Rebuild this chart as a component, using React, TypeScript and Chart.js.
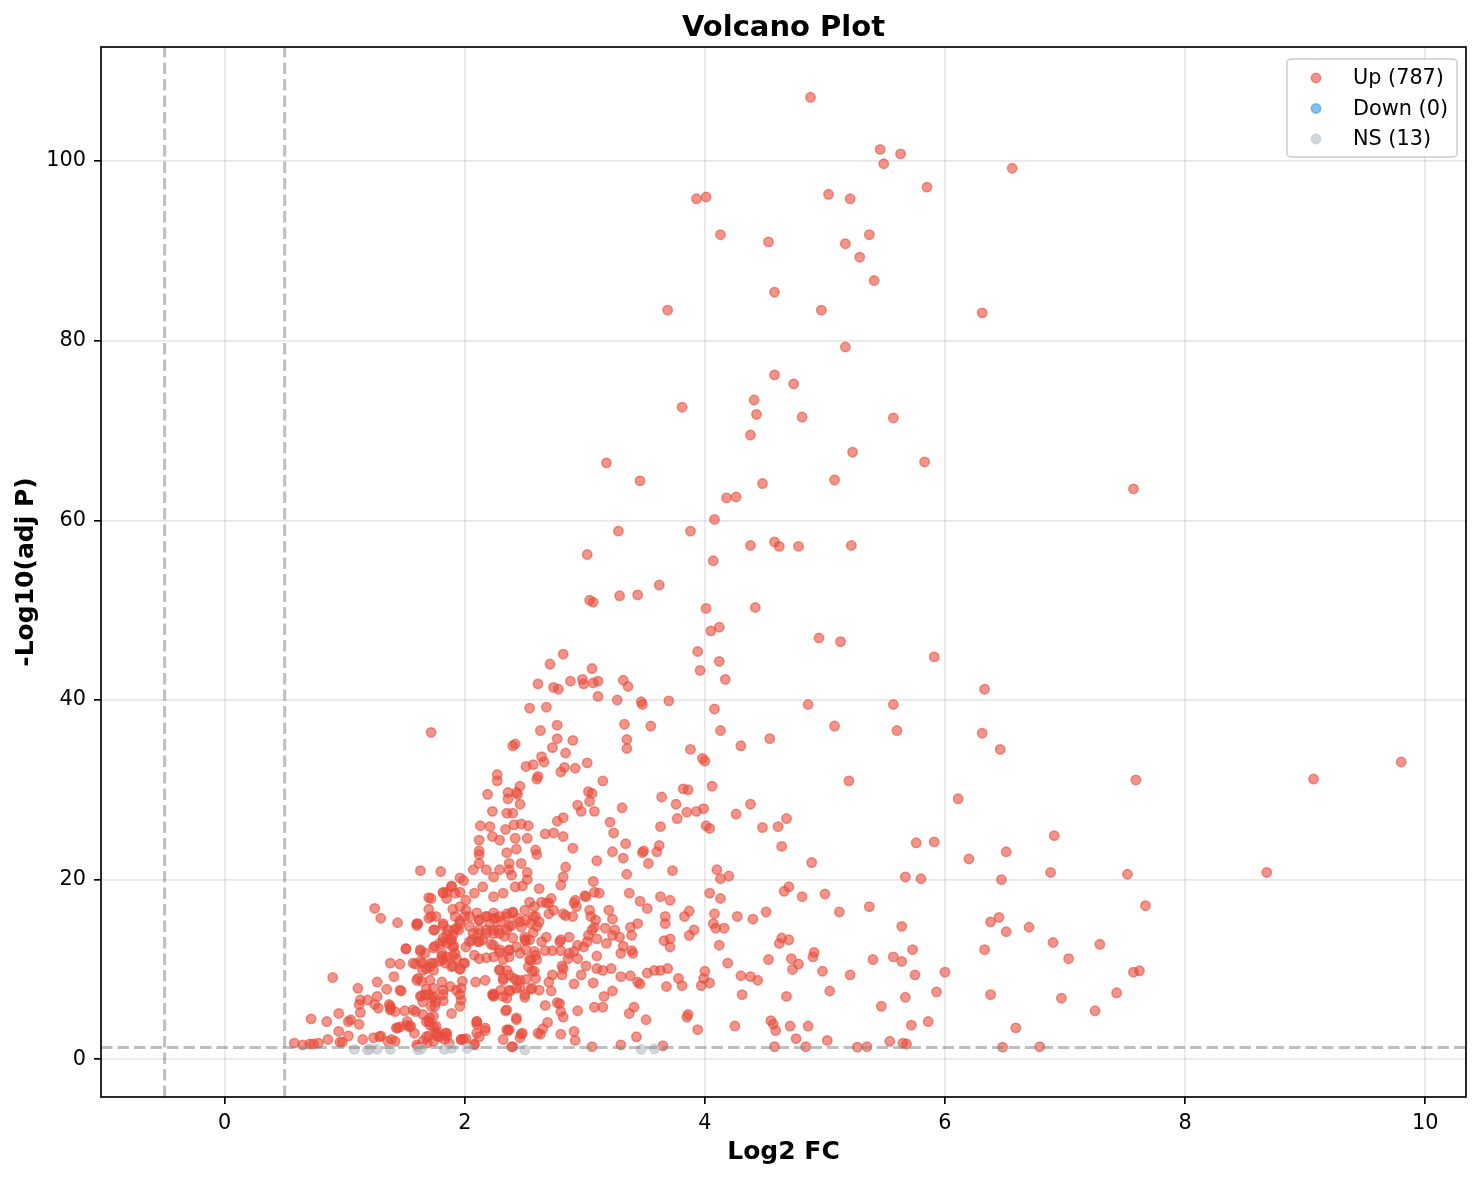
import { useEffect, useRef } from 'react';
import { Chart, registerables } from 'chart.js';

Chart.register(...registerables);

const chartTitle = 'Volcano Plot';
const xLabel = 'Log2 FC';
const yLabel = '-Log10(adj P)';
const xTicks = [0, 2, 4, 6, 8, 10];
const yTicks = [0, 20, 40, 60, 80, 100];
const xMin = -1.03;
const xMax = 10.34;
const yMin = -4.2;
const yMax = 112.7;
const fcThreshold = 0.5;
const pThreshold = 1.3;
const upLabel = 'Up (787)';
const downLabel = 'Down (0)';
const nsLabel = 'NS (13)';

const upTop: [number, number][] = [
  [4.88,107.1],[5.46,101.3],[5.49,99.7],[5.63,100.8],[6.56,99.2],[5.85,97.1],[5.03,96.3],[5.21,95.8],[3.93,95.8],[4.01,96.0],
  [4.13,91.8],[4.53,91.0],[5.17,90.8],[5.37,91.8],[5.29,89.3],[5.41,86.7],[4.58,85.4],[3.69,83.4],[4.97,83.4],[6.31,83.1],
  [5.17,79.3],[4.58,76.2],[4.74,75.2],[3.81,72.6],[4.41,73.4],[4.43,71.8],[4.81,71.5],[5.57,71.4],[4.38,69.5],[5.23,67.6],
  [5.83,66.5],[3.18,66.4],[3.46,64.4],[4.48,64.1],[5.08,64.5],[7.57,63.5],[4.18,62.5],[4.26,62.6],[4.08,60.1],[3.28,58.8],
  [3.88,58.8],[4.38,57.2],[4.58,57.6],[4.62,57.1],[4.78,57.1],[5.22,57.2],[3.02,56.2],[4.07,55.5],[3.62,52.8],[3.04,51.1],
  [3.07,50.9],[3.29,51.6],[3.44,51.7],[4.01,50.2],[4.42,50.3],[4.05,47.7],[4.12,48.1],[4.95,46.9],[5.13,46.5],[1.72,36.4],
];

const upMidBand: [number, number][] = [
  [4.54,35.7],[4.86,39.5],[5.08,37.1],[5.57,39.5],[5.60,36.6],[5.20,31.0],[4.61,25.9],[4.68,26.8],[4.48,25.8],[4.64,23.7],
  [4.89,21.9],[4.70,19.2],[4.66,18.7],[4.81,18.1],[5.00,18.4],[5.12,16.4],[5.37,17.0],[4.51,16.4],[4.64,13.5],[4.70,13.3],
  [4.62,12.9],[4.91,11.9],[4.90,11.4],[5.40,11.1],[5.57,11.4],[4.53,11.1],[4.72,11.2],[4.78,10.6],[4.73,10.0],[4.98,9.8],
  [5.21,9.4],[5.04,7.6],[4.68,7.0],[4.55,4.3],[4.57,3.9],[4.59,3.2],[4.71,3.7],[4.86,3.7],[4.76,2.3],[5.02,2.1],
  [4.58,1.4],[4.84,1.4],[5.27,1.35],[5.35,1.4],[5.47,5.9],[5.65,1.8],[5.54,2.0],
];

const upRight: [number, number][] = [
  [5.91,44.8],[6.33,41.2],[6.31,36.3],[6.46,34.5],[7.59,31.1],[9.07,31.2],[9.80,33.1],[6.11,29.0],[5.76,24.1],[5.91,24.2],
  [6.91,24.9],[6.20,22.3],[6.51,23.1],[5.67,20.3],[5.80,20.1],[6.47,20.0],[6.88,20.8],[7.52,20.6],[8.68,20.8],[7.67,17.1],
  [5.64,14.8],[6.38,15.3],[6.45,15.8],[6.51,14.2],[6.70,14.7],[5.73,12.2],[6.33,12.2],[6.90,13.0],[7.29,12.8],[7.03,11.2],
  [5.64,10.9],[5.75,9.4],[6.00,9.7],[7.57,9.7],[7.62,9.85],[5.67,6.9],[5.93,7.5],[6.38,7.2],[6.97,6.8],[7.43,7.4],
  [7.25,5.4],[5.72,3.8],[5.86,4.2],[6.59,3.5],[5.68,1.7],[6.48,1.35],[6.79,1.4],
];

const upCenterHigh: [number, number][] = [
  [3.94,45.4],[4.12,44.3],[3.96,43.3],[4.17,42.3],[2.82,45.1],[2.71,44.0],[2.61,41.8],[2.74,41.4],[2.78,41.2],[2.88,42.1],
  [2.98,42.3],[2.99,41.8],[3.06,43.5],[3.07,41.9],[3.11,42.1],[3.11,40.4],[3.32,42.2],[3.36,41.5],[3.27,40.0],[3.47,39.8],
  [3.48,39.5],[3.70,39.9],[2.54,39.1],[2.68,39.2],[4.08,39.0],[3.33,37.3],[3.55,37.1],[4.13,36.6],[2.63,36.6],[2.77,37.2],
  [2.90,35.5],[2.77,35.7],[3.35,35.6],[3.35,34.6],[2.40,34.9],[2.42,35.1],[4.30,34.9],[3.88,34.5],[3.98,33.5],[4.00,33.2],
  [2.73,34.7],[2.84,34.1],[2.64,33.7],[2.66,33.1],[3.02,33.0],[2.51,32.6],[2.57,32.8],[2.83,32.5],[2.80,32.0],[2.92,32.4],
  [2.61,31.5],[2.60,31.2],[3.15,31.0],[2.27,31.7],[2.27,31.0],[2.19,29.5],[2.36,29.7],[2.36,29.0],[2.43,29.7],[2.46,30.4],
  [2.44,29.5],[2.46,28.4],[2.23,27.6],[2.35,27.4],[2.40,27.4],[3.03,29.8],[3.06,29.6],[3.04,28.7],[2.94,28.3],[2.97,27.6],
  [3.08,27.6],[3.31,28.0],[3.64,29.2],[3.82,30.1],[3.86,30.0],[4.06,30.4],[3.76,28.4],[3.85,27.5],[3.93,27.6],[3.99,27.9],
  [3.77,26.8],[4.38,28.4],[4.26,27.3],[4.01,26.0],[4.04,25.7],[3.21,26.4],[3.24,25.2],[3.63,25.9],[2.77,26.5],[2.82,26.9],
  [2.67,25.1],[2.74,25.2],[2.82,24.8],[2.13,26.0],[2.21,25.9],[2.23,24.8],[2.29,24.4],[2.34,25.6],[2.41,26.1],[2.47,26.2],
  [2.53,26.0],[2.42,24.6],[2.52,24.6],[2.43,23.4],[2.35,23.0],[2.12,23.2],[2.59,23.3],[2.60,22.8],[2.90,23.5],[3.34,24.0],
  [3.23,23.1],[3.48,23.0],[3.49,23.2],[3.60,23.1],[3.62,23.8],[3.53,21.8],[3.32,22.4],[3.10,22.1],[3.73,21.0],[3.35,20.6],
];

const upCenterLow: [number, number][] = [
  [2.84,21.4],[2.82,20.3],[2.80,19.4],[3.07,19.8],[3.08,18.6],[3.00,18.2],[3.12,18.5],[3.37,18.5],[3.46,17.6],[3.52,16.8],
  [3.63,18.1],[3.71,17.7],[4.04,18.5],[4.10,21.1],[4.13,20.1],[4.20,20.4],[4.13,17.9],[4.08,16.2],[4.27,15.9],[4.40,15.6],
  [3.83,15.9],[3.87,16.5],[3.67,15.9],[3.67,15.1],[3.66,13.2],[3.71,13.4],[3.71,12.5],[3.87,13.8],[3.91,14.4],[4.07,15.1],
  [4.09,14.6],[4.16,14.6],[4.12,12.7],[4.19,10.7],[4.30,9.3],[4.38,9.2],[4.44,8.8],[4.31,7.2],[4.25,3.7],[4.00,9.8],
  [3.99,9.0],[3.97,8.2],[4.04,8.5],[3.68,8.1],[3.78,9.0],[3.81,8.2],[3.69,10.1],[3.63,9.9],[3.58,9.9],[3.52,9.6],
  [3.86,5.0],[3.85,4.7],[3.94,3.3],[3.51,4.4],[3.43,2.5],[3.65,1.5],[3.30,1.6],[3.06,1.4],[3.37,5.1],[3.41,5.8],
  [3.46,8.4],[3.38,9.3],[3.44,8.6],[3.30,9.2],[3.22,10.1],[3.15,9.9],[3.23,7.6],[3.16,7.0],[3.15,5.8],[3.08,5.8],
  [3.07,8.5],[3.10,10.1],[3.01,10.4],[2.97,9.4],[2.91,8.4],[2.94,5.4],[2.91,3.1],[2.92,2.1],[2.80,2.8],[2.79,6.2],
  [2.80,5.3],[2.82,4.7],[2.77,6.3],[2.67,6.0],[2.69,4.1],[2.65,3.4],[2.63,2.8],[2.72,7.6],[2.70,8.6],[2.81,9.4],
  [2.73,9.4],[2.82,10.1],[2.81,10.4],[2.73,12.1],[2.67,12.1],[2.59,11.6],[2.55,11.0],[2.59,9.0],[2.56,9.8],[2.51,8.9],
  [2.55,7.8],[2.50,6.9],[2.43,8.8],[2.46,8.0],[2.38,7.6],[2.35,6.8],[2.32,9.0],[2.29,10.0],[2.17,8.8],[2.09,8.6],
  [2.23,7.2],[2.24,7.1],[2.34,5.4],[2.43,4.4],[2.36,3.2],[2.32,2.2],[2.48,2.9],[2.46,2.4],[2.39,1.4],[2.10,4.2],
  [2.10,3.9],[2.17,3.2],[2.08,1.7],[1.99,2.2],
];

const upCenterDense: [number, number][] = [
  [2.12,24.4],[1.99,19.9],[2.07,21.1],[2.12,21.8],[2.12,22.8],[2.18,21.1],[2.24,20.3],[2.29,21.1],[2.37,21.8],[2.37,21.1],
  [2.39,20.5],[2.47,21.8],[2.52,20.8],[2.52,20.0],[2.48,19.3],[2.42,19.2],[2.32,18.5],[2.24,18.1],[2.15,19.2],[2.08,18.5],
  [2.01,17.7],[1.96,17.0],[2.04,15.9],[2.12,15.5],[2.18,15.9],[2.24,15.7],[2.29,15.9],[2.35,16.2],[2.40,16.4],[2.44,15.7],
  [2.50,16.6],[2.54,17.5],[2.58,17.0],[2.62,19.0],[2.64,17.5],[2.68,17.4],[2.72,17.9],[2.70,16.2],[2.74,16.6],[2.55,15.1],
  [2.57,14.1],[2.50,13.6],[2.47,14.7],[2.39,14.9],[2.35,14.4],[2.29,14.0],[2.24,14.4],[2.18,14.0],[2.11,14.0],[2.04,13.1],
  [2.11,13.1],[2.22,12.8],[2.29,11.9],[2.37,12.1],[2.46,11.8],[2.51,13.2],[2.64,13.1],[2.68,13.6],[2.79,13.1],[2.80,13.3],
  [2.87,13.6],[2.87,11.8],[2.91,12.0],[2.94,12.7],[2.99,12.5],[3.03,13.8],[3.06,14.4],[3.08,14.7],[3.10,13.4],[3.02,13.1],
  [2.94,11.2],[2.86,11.2],[2.80,12.1],[3.10,11.5],[3.18,12.9],[3.23,13.8],[3.25,14.4],[3.29,13.6],[3.32,12.6],[3.39,12.1],
  [3.40,11.8],[3.30,11.8],[3.39,13.8],[3.44,15.1],[3.38,14.7],[3.17,14.6],[3.20,16.6],[3.23,15.6],[3.09,15.5],[3.05,15.9],
  [3.04,16.6],[3.01,18.1],[2.93,17.0],[2.91,17.4],[2.92,17.7],[2.90,15.9],[2.84,16.0],[2.82,16.2],[2.70,17.4],[2.59,15.9],
  [2.62,15.3],
];

const upLeft: [number, number][] = [
  [0.58,1.8],[0.65,1.6],[0.71,1.7],[0.74,1.7],[0.78,1.8],[0.72,4.5],[0.85,4.2],[0.86,2.2],[0.95,5.1],[0.95,3.1],
  [0.90,9.1],[0.96,1.9],[0.98,1.9],[1.03,4.2],[1.05,4.4],[1.03,2.6],[1.12,3.9],[1.13,5.2],[1.11,7.9],[1.13,6.6],
  [1.12,6.1],[1.15,2.2],[1.19,6.6],[1.25,16.8],[1.30,15.7],[1.27,8.6],[1.27,7.0],[1.25,6.1],[1.28,5.7],[1.24,2.4],
  [1.30,2.6],[1.35,7.8],[1.37,6.1],[1.38,5.7],[1.41,9.2],[1.39,2.2],[1.44,15.2],[1.47,7.6],[1.44,3.5],[1.38,10.7],
  [1.46,10.6],[1.51,12.3],[1.50,5.4],[1.52,4.2],[1.55,3.7],[1.59,5.3],[1.63,21.0],[1.80,20.9],[1.60,15.1],[1.59,10.6],
  [1.63,12.0],[1.65,10.7],[1.68,7.8],[1.64,8.7],[1.67,7.2],[1.65,5.0],[1.71,4.6],[1.70,2.6],[1.72,5.9],[1.73,6.8],
  [1.70,4.2],[1.70,18.0],[1.72,15.9],[1.74,14.4],[1.75,12.6],[1.74,10.7],[1.71,10.3],[1.74,7.9],[1.76,3.7],[1.77,2.6],
  [1.78,3.0],[1.82,18.6],[1.85,18.6],[1.89,19.3],[1.90,16.7],[1.92,18.5],[1.96,20.2],[1.82,14.9],[1.82,13.1],[1.81,11.8],
  [1.81,11.5],[1.84,10.7],[1.90,10.4],[1.93,11.2],[1.90,11.5],[1.96,10.0],[1.99,10.7],[1.85,13.9],[1.89,13.3],[1.91,12.6],
  [1.91,14.4],[1.95,14.4],[1.96,15.4],[1.98,8.7],[1.97,7.9],[1.88,8.1],[1.82,7.2],[1.82,6.5],[1.84,2.9],[1.85,2.6],
  [1.87,1.8],[1.97,2.2],
];

const upCluster: [number, number][] = [
  [1.72,17.9],[1.61,15.1],[1.60,14.9],[1.70,16.7],[1.70,15.7],[1.76,15.9],[1.75,14.4],[1.82,18.5],[1.85,17.9],[1.89,19.2],
  [1.96,18.6],[1.82,15.1],[1.86,14.4],[1.82,13.5],[1.79,12.9],[1.85,12.9],[1.88,13.3],[1.90,13.8],[1.93,14.6],[1.96,15.1],
  [1.92,15.9],[1.90,12.5],[1.92,11.8],[1.85,11.4],[1.74,12.4],[1.67,11.8],[1.63,12.2],[1.51,12.3],[1.72,10.7],[1.68,10.1],
  [1.74,9.9],[1.79,10.9],[1.82,11.1],[1.89,10.3],[1.96,10.1],[2.00,10.7],[2.01,12.5],[2.06,13.3],[2.07,14.0],[2.04,14.8],
  [2.00,15.9],[2.01,16.6],[2.10,16.3],[2.12,15.5],[2.18,15.9],[2.21,15.1],[2.24,16.3],[2.26,15.7],[2.30,15.3],[2.35,15.9],
  [2.40,16.3],[2.37,14.8],[2.46,15.3],[2.51,15.5],[2.57,15.9],[2.60,14.8],[2.54,13.3],[2.50,13.3],[2.40,13.5],[2.33,13.7],
  [2.28,14.4],[2.24,14.0],[2.18,14.4],[2.12,14.4],[2.15,13.3],[2.12,13.1],[2.24,12.7],[2.29,12.2],[2.37,12.2],[2.37,11.4],
  [2.32,11.1],[2.24,11.4],[2.18,11.3],[2.12,11.2],[2.08,11.6],[2.43,12.5],[2.51,12.2],[2.54,11.1],[2.58,12.0],[2.60,11.1],
  [2.58,9.8],[2.53,10.3],[2.46,8.8],[2.41,9.0],[2.37,9.4],[2.35,9.9],[2.29,9.9],[2.32,8.8],[2.43,7.9],[2.37,7.7],
  [2.30,7.7],[2.24,7.3],[2.24,7.0],[2.32,7.0],[2.35,5.5],[2.43,4.6],[2.47,2.8],[2.50,7.2],[2.56,7.9],[2.62,7.7],
  [2.61,2.9],[2.35,3.3],[2.37,3.3],[2.40,1.4],[2.17,3.5],[2.10,4.2],[2.10,2.9],[2.08,1.6],[2.12,2.5],[2.01,2.3],
  [1.97,2.2],[1.96,5.9],[1.97,6.6],[1.96,7.2],[1.93,7.7],[1.89,5.1],[1.81,8.6],[1.82,7.7],[1.74,7.0],[1.76,6.4],
  [1.75,5.9],[1.70,7.2],[1.64,7.1],[1.65,6.4],[1.63,7.0],[1.57,5.5],[1.68,4.2],[1.71,3.8],[1.74,4.8],[1.74,3.6],
  [1.76,2.9],[1.79,2.5],[1.85,2.9],[1.83,2.2],[1.74,2.0],[1.68,2.5],[1.65,2.0],[1.69,1.8],[1.60,1.6],[1.61,1.4],
  [1.58,2.9],[1.54,3.6],[1.52,3.8],[1.61,9.0],[1.60,8.8],[1.57,10.7],[1.63,10.9],[1.65,9.9],[1.71,8.8],[1.46,7.7],
  [1.42,5.3],[1.38,5.9],[1.38,5.5],[1.46,3.6],[1.43,3.5],[1.42,2.0],[1.36,2.0],[1.29,2.5],
];

const downPoints: [number, number][] = [];

const nsPoints: [number, number][] = [
  [1.08,1.1],[1.19,1.05],[1.21,1.15],[1.27,1.1],[1.38,1.1],[1.61,1.05],[1.64,1.15],[1.83,1.1],[1.89,1.2],[2.02,1.2],
  [2.50,1.05],[3.47,1.1],[3.58,1.15],
];

const upColor = 'rgba(231,76,60,0.6)';
const downColor = 'rgba(52,152,219,0.6)';
const nsColor = 'rgba(189,195,199,0.65)';
const FONT = '"DejaVu Sans", "Liberation Sans", sans-serif';
const MARKER_R = 4.7;

const toXY = (arr: [number, number][]) => arr.map(([x, y]) => ({ x, y }));

const decorPlugin = {
  id: 'decor',
  afterDatasetsDraw(chart: any) {
    const { ctx, chartArea: a, scales } = chart;
    const xs = scales.x;
    const ys = scales.y;
    ctx.save();
    ctx.beginPath();
    ctx.rect(a.left, a.top, a.right - a.left, a.bottom - a.top);
    ctx.clip();
    ctx.strokeStyle = 'rgba(128,128,128,0.5)';
    ctx.lineWidth = 3;
    ctx.setLineDash([11.5, 5]);
    for (const v of [-fcThreshold, fcThreshold]) {
      const px = xs.getPixelForValue(v);
      ctx.beginPath();
      ctx.moveTo(px, a.bottom);
      ctx.lineTo(px, a.top);
      ctx.stroke();
    }
    const py = ys.getPixelForValue(pThreshold);
    ctx.beginPath();
    ctx.moveTo(a.left, py);
    ctx.lineTo(a.right, py);
    ctx.stroke();
    ctx.restore();
  },
  afterDraw(chart: any) {
    const { ctx, chartArea: a } = chart;
    ctx.save();
    ctx.strokeStyle = '#000';
    ctx.lineWidth = 1.67;
    ctx.strokeRect(a.left, a.top, a.right - a.left, a.bottom - a.top);
    ctx.fillStyle = '#000';
    ctx.font = `bold 29px ${FONT}`;
    ctx.textAlign = 'center';
    ctx.textBaseline = 'alphabetic';
    ctx.fillText(chartTitle, (a.left + a.right) / 2, a.top - 11);
    const bw = 170;
    const bh = 98;
    const bx = a.right - 9 - bw;
    const by = a.top + 12;
    ctx.beginPath();
    const r = 4;
    ctx.moveTo(bx + r, by);
    ctx.arcTo(bx + bw, by, bx + bw, by + bh, r);
    ctx.arcTo(bx + bw, by + bh, bx, by + bh, r);
    ctx.arcTo(bx, by + bh, bx, by, r);
    ctx.arcTo(bx, by, bx + bw, by, r);
    ctx.closePath();
    ctx.fillStyle = 'rgba(255,255,255,0.8)';
    ctx.fill();
    ctx.strokeStyle = '#cccccc';
    ctx.lineWidth = 1.5;
    ctx.stroke();
    const items = [
      { label: upLabel, color: upColor },
      { label: downLabel, color: downColor },
      { label: nsLabel, color: nsColor },
    ];
    items.forEach((it, i) => {
      const cy = by + 19 + i * 30.5;
      ctx.beginPath();
      ctx.arc(bx + 29, cy, MARKER_R, 0, Math.PI * 2);
      ctx.fillStyle = it.color;
      ctx.fill();
      ctx.strokeStyle = it.color;
      ctx.lineWidth = 1.5;
      ctx.stroke();
      ctx.fillStyle = '#000';
      ctx.font = `20.8px ${FONT}`;
      ctx.textAlign = 'left';
      ctx.textBaseline = 'middle';
      ctx.fillText(it.label, bx + 66, cy + 1);
    });
    ctx.restore();
  },
};

export default function App() {
  const ref = useRef<HTMLCanvasElement | null>(null);
  useEffect(() => {
    if (!ref.current) return;
    const upAll = [
      ...upTop, ...upMidBand, ...upRight, ...upCenterHigh, ...upCenterLow,
      ...upCenterDense, ...upLeft, ...upCluster,
    ];
    const pointStyle = (c: string) => ({
      backgroundColor: c,
      borderColor: c,
      borderWidth: 1.5,
      pointRadius: MARKER_R,
      pointHoverRadius: MARKER_R,
    });
    const chart = new Chart(ref.current, {
      type: 'scatter',
      data: {
        datasets: [
          { label: upLabel, data: toXY(upAll), order: 3, ...pointStyle(upColor) },
          { label: downLabel, data: toXY(downPoints), order: 2, ...pointStyle(downColor) },
          { label: nsLabel, data: toXY(nsPoints), order: 1, ...pointStyle(nsColor) },
        ],
      },
      options: {
        animation: false,
        responsive: false,
        devicePixelRatio: 1,
        layout: { padding: { top: 47, right: 16, bottom: 0, left: 0 } },
        plugins: {
          legend: { display: false },
          title: { display: false },
          tooltip: { enabled: false },
        },
        scales: {
          x: {
            type: 'linear',
            min: xMin,
            max: xMax,
            afterBuildTicks: (s: any) => { s.ticks = xTicks.map((v) => ({ value: v })); },
            afterFit: (s: any) => { s.height = 83; },
            ticks: {
              font: { family: FONT, size: 20.8 },
              color: '#000',
              padding: 7,
              maxRotation: 0,
              autoSkip: false,
            },
            grid: {
              color: 'rgba(176,176,176,0.3)',
              lineWidth: 1.67,
              tickColor: '#000',
              tickLength: 7,
              tickWidth: 1.67,
            },
            border: { display: false },
            title: {
              display: true,
              text: xLabel,
              color: '#000',
              font: { family: FONT, size: 25, weight: 'bold' },
              padding: { top: 0, bottom: 13 },
            },
          },
          y: {
            type: 'linear',
            min: yMin,
            max: yMax,
            afterBuildTicks: (s: any) => { s.ticks = yTicks.map((v) => ({ value: v })); },
            afterFit: (s: any) => { s.width = 101; },
            ticks: {
              font: { family: FONT, size: 20.8 },
              color: '#000',
              padding: 8,
              autoSkip: false,
            },
            grid: {
              color: 'rgba(176,176,176,0.3)',
              lineWidth: 1.67,
              tickColor: '#000',
              tickLength: 7,
              tickWidth: 1.67,
            },
            border: { display: false },
            title: {
              display: true,
              text: yLabel,
              color: '#000',
              font: { family: FONT, size: 25, weight: 'bold' },
              padding: { top: 11, bottom: 0 },
            },
          },
        },
      } as any,
      plugins: [decorPlugin],
    });
    return () => chart.destroy();
  }, []);
  return (
    <div style={{ position: 'fixed', left: 0, top: 0, width: 1482, height: 1180, background: '#fff' }}>
      <canvas ref={ref} width={1482} height={1180} style={{ width: 1482, height: 1180, display: 'block' }} />
    </div>
  );
}
